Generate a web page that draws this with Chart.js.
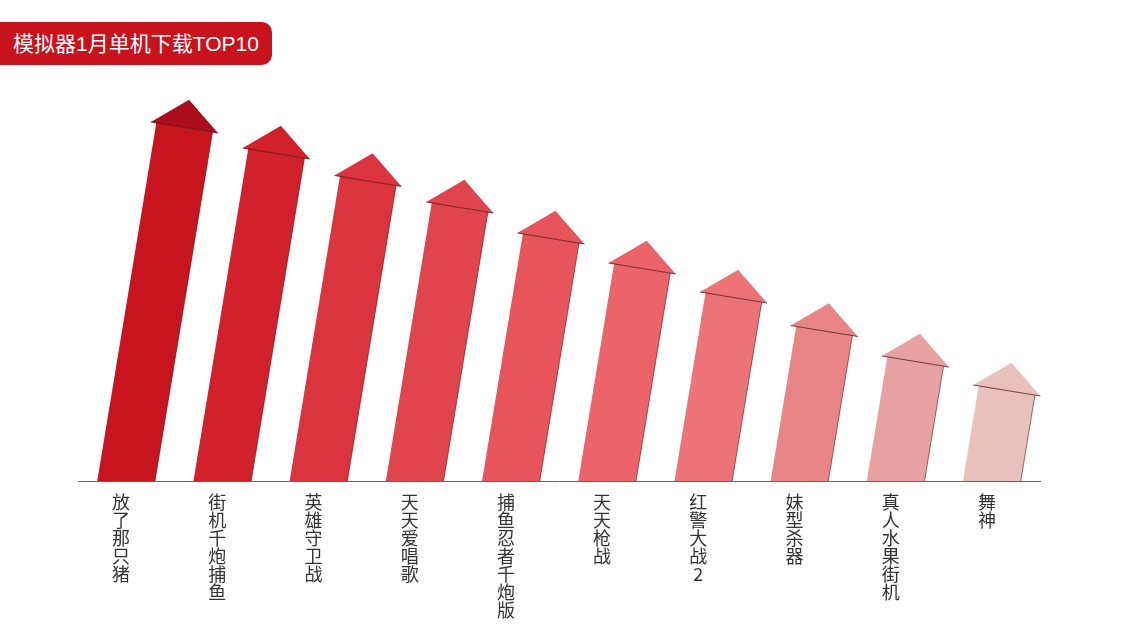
<!DOCTYPE html>
<html>
<head>
<meta charset="utf-8">
<script src="https://cdn.jsdelivr.net/npm/chart.js@4/dist/chart.umd.min.js"></script>
<style>
    html, body { margin: 0; padding: 0; background: #fff; }
    #wrap { position: relative; width: 1123px; height: 637px; }
    #badge {
        position: absolute; left: 0; top: 22px; width: 259px; height: 43px;
        padding-left: 13px; line-height: 43px;
        background: #c8131f; color: #fff; border-radius: 0 10px 10px 0;
        font-family: "Liberation Sans", "Noto Sans CJK SC", sans-serif; font-size: 21px;
    }
    #chart { position: absolute; left: 0; top: 0; }
</style>
</head>
<body>
<div id="wrap">
    <canvas id="chart" width="1123" height="637"></canvas>
    <div id="badge">模拟器1月单机下载TOP10</div>
</div>
<script>
// Chart data
const games = ["放了那只猪", "街机千炮捕鱼", "英雄守卫战", "天天爱唱歌", "捕鱼忍者千炮版",
               "天天枪战", "红警大战2", "妹型杀器", "真人水果街机", "舞神"];
const downloads = [353.5, 327.5, 300, 273.5, 242.5, 212.5, 183.5, 150, 119.5, 90.5];
const arrowColors = ["#c8141f", "#d3202d", "#dc343f", "#e0444d", "#e8545c",
                     "#ec6369", "#ec7479", "#ea8587", "#e8a1a1", "#e8c1bd"];

// slanted arrows instead of plain bars
const SLANT = 0.165;
const arrowPlugin = {
    id: "arrows",
    beforeDatasetDraw() { return false; },
    afterDatasetsDraw(chart) {
        const ctx = chart.ctx;
        const cos = 1 / Math.sqrt(1 + SLANT * SLANT);
        const sin = SLANT * cos;
        chart.getDatasetMeta(0).data.forEach(function (bar, i) {
            const p = bar.getProps(["x", "y", "base", "width"], true);
            const hw = p.width / 2;
            const wp = hw * cos;
            const tx = p.x + (p.base - p.y) * SLANT, ty = p.y;
            const e = 5.5, h = 28;
            const color = bar.options.backgroundColor;

            // body
            ctx.save();
            ctx.fillStyle = color;
            ctx.beginPath();
            ctx.moveTo(p.x - hw, p.base);
            ctx.lineTo(tx - cos * wp, ty - sin * wp);
            ctx.lineTo(tx + cos * wp, ty + sin * wp);
            ctx.lineTo(p.x + hw, p.base);
            ctx.closePath();
            ctx.fill();

            // right edge shadow
            ctx.strokeStyle = "rgba(70,10,10,0.55)";
            ctx.lineWidth = 1;
            ctx.beginPath();
            ctx.moveTo(p.x + hw, p.base);
            ctx.lineTo(tx + cos * wp, ty + sin * wp);
            ctx.stroke();

            // head
            ctx.fillStyle = i === 0 ? "#ac0f1c" : color;
            ctx.beginPath();
            ctx.moveTo(tx - cos * (wp + e), ty - sin * (wp + e));
            ctx.lineTo(tx + sin * h, ty - cos * h);
            ctx.lineTo(tx + cos * (wp + e), ty + sin * (wp + e));
            ctx.closePath();
            ctx.fill();

            ctx.strokeStyle = "rgba(70,10,10,0.7)";
            ctx.lineWidth = 1.2;
            ctx.beginPath();
            ctx.moveTo(tx - cos * (wp + e), ty - sin * (wp + e));
            ctx.lineTo(tx + cos * (wp + e), ty + sin * (wp + e));
            ctx.stroke();
            ctx.restore();
        });
    }
};

new Chart(document.getElementById("chart").getContext("2d"), {
    type: "bar",
    data: {
        labels: games.map(function (g) { return g.split(""); }),
        datasets: [{
            label: "下载",
            data: downloads,
            backgroundColor: arrowColors,
            categoryPercentage: 1,
            barPercentage: 0.6
        }]
    },
    options: {
        responsive: false,
        animation: false,
        layout: { padding: { left: 78, right: 83, top: 81, bottom: 0 } },
        plugins: { legend: { display: false }, tooltip: { enabled: false } },
        scales: {
            x: {
                grid: { display: false, drawTicks: false },
                border: { display: true, color: "#666", width: 1 },
                ticks: {
                    color: "#333",
                    padding: 12,
                    labelOffset: -5,
                    maxRotation: 0,
                    autoSkip: false,
                    font: { family: "Noto Sans CJK SC", size: 18, lineHeight: 1.0 }
                },
                afterFit: function (axis) { axis.height = 156; }
            },
            y: { display: false, min: 0, max: 400 }
        }
    },
    plugins: [arrowPlugin]
});
</script>
</body>
</html>
